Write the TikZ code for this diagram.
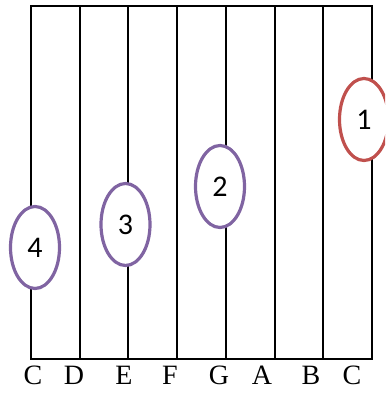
\documentclass[tikz,border=0pt]{standalone}
\usepackage{fontspec}
\setmainfont{Liberation Serif}
\newfontfamily\numfont{Carlito}
\usetikzlibrary{positioning, shapes.geometric}
\definecolor{fingerpurple}{RGB}{128,100,162}
\definecolor{fingerred}{RGB}{192,80,77}

\begin{document}
\begin{tikzpicture}[x=1pt, y=1pt,
    finger/.style={ellipse, draw=fingerpurple, line width=3.2pt, fill=white,
        minimum width=49pt, minimum height=82pt, inner sep=0pt,
        font=\numfont\fontsize{30}{30}\selectfont},
    notename/.style={font=\fontsize{28}{28}\selectfont, inner sep=0pt}]
    \useasboundingbox (0,0) rectangle (385,393);
    \clip (0,0) rectangle (385,393);
    % strings
    \foreach \i in {0,...,7} {
        \coordinate (t\i) at (31+48.7*\i, 386.5);
        \coordinate (b\i) at (31+48.7*\i, 34.3);
        \draw[line width=2pt] (t\i) -- (b\i);
    }
    \draw[line width=2pt] (t0) rectangle (b7);
    % note names
    \foreach \n/\x [count=\k] in {C/33, D/74, E/124, F/170, G/219, A/262, B/311, C/352}
        \node[notename] (note\k) at (\x, 18) {\n};
    % fingers
    \node[finger] (f4) at (35, 145.5) {\raisebox{-1.5pt}{4}};
    \node[finger] (f3) at (125.5, 168.5) {\raisebox{-1.5pt}{3}};
    \node[finger] (f2) at (220, 206.5) {\raisebox{-1.5pt}{2}};
    \node[finger, draw=fingerred] (f1) at (364, 273.5) {\raisebox{-1.5pt}{1}};
\end{tikzpicture}
\end{document}
